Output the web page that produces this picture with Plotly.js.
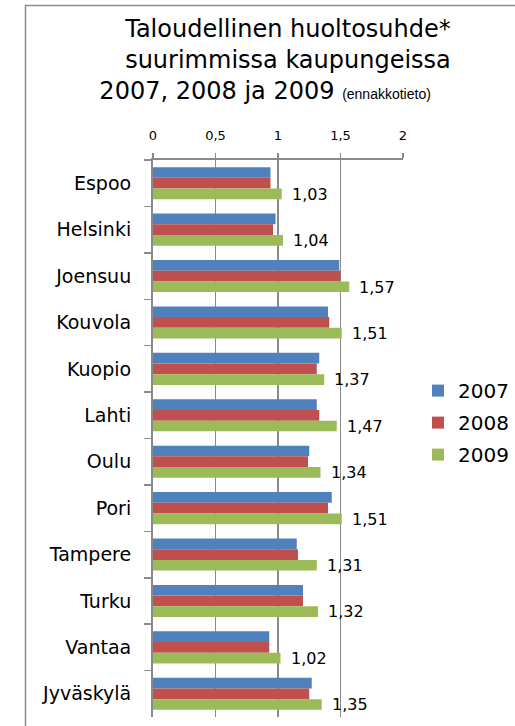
<!DOCTYPE html>
<html>
<head>
<meta charset="utf-8">
<script src="https://cdn.plot.ly/plotly-3.0.1.min.js"></script>
<style>
  html, body { margin: 0; padding: 0; background: #fff; overflow: hidden; width: 515px; height: 726px; }
  #chart { width: 515px; height: 726px; display: block; }
</style>
</head>
<body>
<div id="chart"></div>
<script>
const cities = ["Espoo", "Helsinki", "Joensuu", "Kouvola", "Kuopio", "Lahti", "Oulu", "Pori", "Tampere", "Turku", "Vantaa", "Jyväskylä"];
const years = ["2007", "2008", "2009"];
const v2007 = [0.94, 0.98, 1.49, 1.40, 1.33, 1.31, 1.25, 1.43, 1.15, 1.20, 0.93, 1.27];
const v2008 = [0.94, 0.96, 1.50, 1.41, 1.31, 1.33, 1.24, 1.40, 1.16, 1.20, 0.93, 1.25];
const v2009 = [1.03, 1.04, 1.57, 1.51, 1.37, 1.47, 1.34, 1.51, 1.31, 1.32, 1.02, 1.35];
const xTicks = [0, 0.5, 1, 1.5, 2];
const colors = ["#4F81BD", "#C0504D", "#9BBB59"];
const series = [v2007, v2008, v2009];

const FONT = "DejaVu Sans, Verdana, sans-serif";
const GRID = "#8a8a8a";

const traces = series.map((vals, i) => ({
  type: "bar",
  orientation: "h",
  name: years[i],
  x: vals,
  y: cities,
  marker: { color: colors[i], line: { width: 0 } },
  legendgroup: years[i],
  hoverinfo: "x+y+name"
}));

const annotations = cities.map((c, i) => ({
  x: v2009[i],
  y: c,
  xref: "x",
  yref: "y",
  text: v2009[i].toFixed(2).replace(".", ","),
  showarrow: false,
  xanchor: "left",
  yanchor: "middle",
  xshift: 8,
  yshift: -11,
  font: { family: FONT, size: 16, color: "#000" }
}));

const layout = {
  width: 515,
  height: 726,
  margin: { l: 153, r: 112, t: 160, b: 9, autoexpand: false },
  paper_bgcolor: "#fff",
  plot_bgcolor: "#fff",
  separators: ", ",
  barmode: "group",
  bargap: 0.31,
  bargroupgap: 0,
  font: { family: FONT, color: "#000" },
  title: {
    text: "Taloudellinen huoltosuhde*<br>suurimmissa kaupungeissa<br>2007, 2008 ja 2009 <span style=\"font-size:14px;font-family:'Liberation Sans',Arial,sans-serif\">(ennakkotieto)</span>&nbsp;&nbsp;&nbsp;&nbsp;&nbsp;&nbsp;",
    font: { family: FONT, size: 24, color: "#000" },
    x: 288 / 515,
    xanchor: "center",
    xref: "container",
    yref: "container",
    y: 1 - 37 / 726,
    yanchor: "top"
  },
  xaxis: {
    side: "top",
    range: [0, 2],
    tickvals: xTicks,
    ticks: "outside",
    ticklen: 5,
    tickcolor: GRID,
    tickwidth: 1.5,
    showline: true,
    linecolor: GRID,
    linewidth: 2,
    showgrid: true,
    gridcolor: GRID,
    gridwidth: 1.2,
    zeroline: false,
    tickfont: { family: FONT, size: 13, color: "#000" },
    ticklabelstandoff: 8,
    fixedrange: true
  },
  yaxis: {
    type: "category",
    categoryorder: "array",
    categoryarray: cities,
    autorange: "reversed",
    tickson: "boundaries",
    ticks: "outside",
    ticklen: 7,
    tickcolor: GRID,
    tickwidth: 1.5,
    showline: true,
    linecolor: GRID,
    linewidth: 2,
    showgrid: false,
    zeroline: false,
    tickfont: { family: FONT, size: 19, color: "#000" },
    ticklabelstandoff: 16,
    fixedrange: true
  },
  legend: {
    x: 1.06,
    xanchor: "left",
    y: 0.621,
    yanchor: "top",
    font: { family: FONT, size: 20, color: "#000" },
    traceorder: "grouped",
    tracegroupgap: 3,
    bgcolor: "rgba(0,0,0,0)"
  },
  annotations: annotations,
  shapes: [{
    type: "rect",
    xref: "paper",
    yref: "paper",
    x0: (25.5 - 153) / 250,
    x1: 2,
    y0: -0.5,
    y1: (717 - 5.5) / 557,
    line: { color: "#8c8c8c", width: 1.5 },
    fillcolor: "rgba(0,0,0,0)",
    layer: "below"
  }]
};

Plotly.newPlot("chart", traces, layout, { displayModeBar: false, staticPlot: true });
</script>
</body>
</html>
